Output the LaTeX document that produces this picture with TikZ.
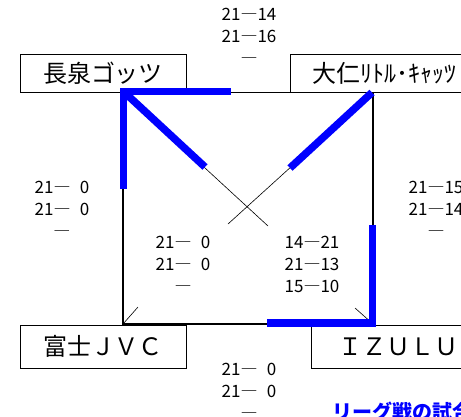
\documentclass[tikz,border=0pt]{standalone}
\usepackage{fontspec}
\setmainfont{Noto Sans CJK JP}
\begin{document}
\begin{tikzpicture}[
    x=1pt, y=-1pt,
    team/.style={draw, line width=.9pt, inner sep=0pt, font=\fontsize{24}{24}\selectfont},
    score/.style={align=center, inner sep=0pt, font=\fontsize{17}{22}\selectfont},
    edge/.style={line width=1.3pt},
    cross/.style={line width=.6pt},
    win/.style={blue, line width=7.5pt, line join=miter}]
  \useasboundingbox (0,0) rectangle (461,416);
  \clip (0,0) rectangle (461,416);
  \node[team, minimum width=166pt, minimum height=38pt] (nagaizumi) at (103,73) {長泉ゴッツ};
  \node[team, minimum width=188pt, minimum height=38pt] (ohito) at (384,73) {大仁ﾘﾄﾙ･ｷｬｯﾂ};
  \node[team, minimum width=166pt, minimum height=43pt] (fuji) at (103,346.5) {富士ＪＶＣ};
  \node[team, minimum width=175pt, minimum height=43pt] (izulu) at (398.5,346.5) {ＩＺＵＬＵ};
  \coordinate (nw) at (123,92.5);
  \coordinate (ne) at (373,92.5);
  \coordinate (sw) at (123,324);
  \coordinate (se) at (373,324);
  \draw[edge] (nw) -- (ne) -- (se) -- (sw) -- cycle;
  \draw[cross] (nw) -- (268,226);
  \draw[cross] (ne) -- (228,224);
  \draw[cross] (sw) -- (138,307);
  \draw[cross] (se) -- (355,308);
  \draw[win] (123.5,189) -- (123.5,91.5) -- (231,91.5);
  \draw[win] (123.5,91.5) -- (205,167);
  \draw[win] (372,92.5) -- (290,168);
  \draw[win] (372.5,225) -- (372.5,323) -- (267,323);
  \node[score] (top) at (249,36) {21―14\\21―16\\―};
  \node[score] (left) at (62,209) {21―\hphantom{2}0\\21―\hphantom{2}0\\―};
  \node[score] (right) at (436,209) {21―15\\21―14\\―};
  \node[score] (midleft) at (183,264) {21―\hphantom{2}0\\21―\hphantom{2}0\\―};
  \node[score] (midright) at (312,264) {14―21\\21―13\\15―10};
  \node[score] (bottom) at (249,391) {21―\hphantom{2}0\\21―\hphantom{2}0\\―};
  \node[blue, anchor=base west, inner sep=0pt, font=\fontsize{20}{20}\selectfont\bfseries] (note) at (332,419) {リーグ戦の試合};
\end{tikzpicture}
\end{document}
